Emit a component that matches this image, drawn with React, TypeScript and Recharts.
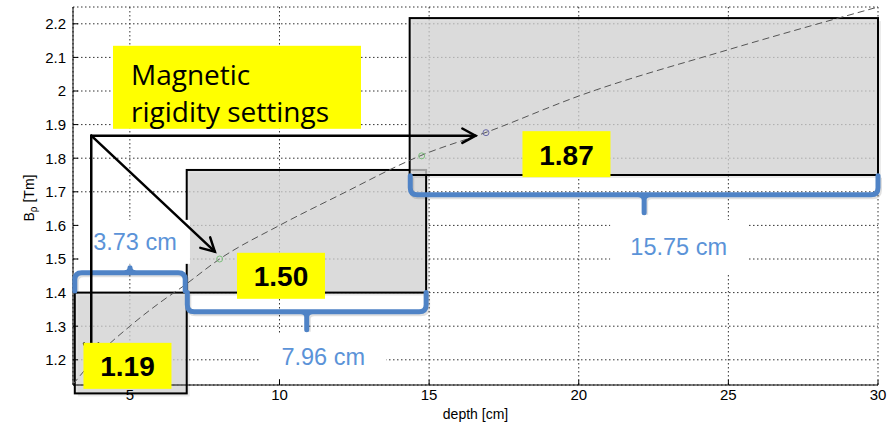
import {
  CartesianGrid,
  ComposedChart,
  Label,
  Line,
  ReferenceArea,
  ReferenceDot,
  ReferenceLine,
  Scatter,
  XAxis,
  YAxis,
} from "recharts";

// rigidity curve Bρ vs depth
const depth = [3.1, 4, 5, 6, 6.8, 8, 10, 12, 14.7, 17, 20, 25, 30];
const rigidity = [1.127, 1.22, 1.3, 1.37, 1.42, 1.5, 1.6, 1.69, 1.807, 1.88, 1.985, 2.123, 2.25];

const xTicks = [5, 10, 15, 20, 25, 30];
const yTicks = [1.2, 1.3, 1.4, 1.5, 1.6, 1.7, 1.8, 1.9, 2.0, 2.1, 2.2];

// marked settings on the curve
const markDepth = [8.0, 14.75, 16.9];
const markRigidity = [1.5, 1.807, 1.876];
const markColor = ["#7cbf7c", "#7cbf7c", "#6a6aa8"];

// shaded depth windows
const windowLabel = ["1.19", "1.50", "1.87"];
const windowX1 = [3.16, 6.9, 14.35];
const windowX2 = [6.9, 14.9, 30];
const windowY1 = [1.1, 1.4, 1.75];
const windowY2 = [1.4, 1.765, 2.217];
const windowLabelX = [4.92, 10.05, 19.59];
const windowLabelY = [1.182, 1.45, 1.812];

// braces with widths
const braceText = ["3.73 cm", "7.96 cm", "15.75 cm"];
const braceX1 = [3.16, 6.92, 14.37];
const braceX2 = [6.85, 14.9, 30];
const braceEnd = [1.405, 1.4, 1.748];
const braceBar = [1.459, 1.343, 1.691];
const braceTextX = [5.17, 11.46, 23.34];
const braceTextY = [1.551, 1.209, 1.536];

// arrows from the caption
const arrowFromX = 3.71;
const arrowFromY = 1.867;
const arrowToX = [16.55, 7.84, 3.71];
const arrowToY = [1.867, 1.522, 1.209];

const captionX = 8.58;
const captionY = 2.011;

const curve = depth.map((d, i) => ({ depth: d, b: rigidity[i] }));
const marks = markDepth.map((d, i) => ({ depth: d, b: markRigidity[i], color: markColor[i] }));

const BLUE = "#4f83c6";
const TEXT_BLUE = "#5b93d8";
const YELLOW = "#ffff00";
const FONT = "'Liberation Sans', Arial, sans-serif";

function fmt(v: number) {
  return String(Number(v.toFixed(1)));
}

function windowShape(p: any) {
  const { x, y, width, height } = p;
  return (
    <g>
      <rect x={x + 3} y={y + 3} width={width} height={height} fill="#000" fillOpacity={0.08} />
      <rect x={x} y={y} width={width} height={height} fill="#d6d6d6" fillOpacity={0.75} stroke="#000" strokeWidth={2} />
    </g>
  );
}

function braceShape(p: any, up: boolean) {
  const { x, y, width, height } = p;
  const x2 = x + width;
  const xc = x + width / 2;
  const s = up ? -1 : 1;
  const yBar = up ? y : y + height;
  const yEnd = up ? y + height : y;
  const r = 7;
  const tip = up ? 5 : 18;
  const d =
    `M${x},${yEnd} L${x},${yBar - s * r} Q${x},${yBar} ${x + r},${yBar} ` +
    `L${x2 - r},${yBar} Q${x2},${yBar} ${x2},${yBar - s * r} L${x2},${yEnd} ` +
    `M${xc - 6},${yBar} Q${xc},${yBar} ${xc},${yBar + s * 5} L${xc},${yBar + s * tip} ` +
    `M${xc + 6},${yBar} Q${xc},${yBar} ${xc},${yBar + s * 5}`;
  return (
    <g>
      <path d={d} fill="none" stroke="#000" strokeOpacity={0.12} strokeWidth={5} transform="translate(1.5,2)" />
      <path d={d} fill="none" stroke={BLUE} strokeWidth={5} strokeLinecap="round" strokeLinejoin="round" />
    </g>
  );
}

function arrowShape(p: any) {
  const { x1, y1, x2, y2 } = p;
  const a = Math.atan2(y2 - y1, x2 - x1);
  const len = 15;
  const spread = 0.5;
  const hx1 = x2 - len * Math.cos(a - spread);
  const hy1 = y2 - len * Math.sin(a - spread);
  const hx2 = x2 - len * Math.cos(a + spread);
  const hy2 = y2 - len * Math.sin(a + spread);
  return (
    <g stroke="#000" strokeWidth={2.5} fill="none" strokeLinecap="round">
      <line x1={x1} y1={y1} x2={x2} y2={y2} />
      <polyline points={`${hx1},${hy1} ${x2},${y2} ${hx2},${hy2}`} />
    </g>
  );
}

function widthLabel(text: string, w: number, h: number) {
  return (p: any) => (
    <g>
      <rect x={p.cx - w / 2} y={p.cy - h / 2} width={w} height={h} fill="#fff" />
      <text
        x={p.cx}
        y={p.cy}
        textAnchor="middle"
        dominantBaseline="central"
        fontFamily={FONT}
        fontSize={23.5}
        fill={TEXT_BLUE}
      >
        {text}
      </text>
    </g>
  );
}

function valueLabel(text: string) {
  return (p: any) => (
    <g>
      <rect x={p.cx - 44} y={p.cy - 23} width={88} height={46} fill={YELLOW} />
      <text
        x={p.cx}
        y={p.cy + 1}
        textAnchor="middle"
        dominantBaseline="central"
        fontFamily={FONT}
        fontWeight="bold"
        fontSize={28}
        fill="#000"
      >
        {text}
      </text>
    </g>
  );
}

function captionShape(p: any) {
  const left = p.cx - 124;
  const top = p.cy - 41.5;
  return (
    <g>
      <rect x={left} y={top} width={248} height={83} fill={YELLOW} />
      <text x={left + 18} y={top + 39} fontFamily="'Open Sans', sans-serif" fontSize={28} fill="#000">
        Magnetic
      </text>
      <text x={left + 18} y={top + 76} fontFamily="'Open Sans', sans-serif" fontSize={28} fill="#000">
        rigidity settings
      </text>
    </g>
  );
}

function markShape(p: any) {
  return <circle cx={p.cx} cy={p.cy} r={3} fill="none" stroke={p.payload.color} strokeWidth={1} />;
}

const tickStyle = { fill: "#000", fontSize: 15, fontFamily: FONT };

export default function App() {
  return (
    <div style={{ position: "absolute", left: 0, top: 0, background: "#fff" }}>
      <ComposedChart width={889} height={425} data={curve} margin={{ top: 7, right: 11, left: 13, bottom: 0 }}>
        <CartesianGrid stroke="#333" strokeDasharray="1.5 2.5" />
        <XAxis
          dataKey="depth"
          type="number"
          domain={[3.1, 30]}
          ticks={xTicks}
          allowDataOverflow
          height={40}
          tickSize={-5}
          tickMargin={9}
          axisLine={{ stroke: "#000" }}
          tickLine={{ stroke: "#000" }}
          tick={tickStyle}
        >
          <Label value="depth [cm]" position="insideBottom" offset={6} fontSize={14} fill="#000" fontFamily={FONT} />
        </XAxis>
        <XAxis
          xAxisId="top"
          orientation="top"
          dataKey="depth"
          type="number"
          domain={[3.1, 30]}
          ticks={xTicks}
          allowDataOverflow
          height={0}
          tickSize={-5}
          tick={false}
          axisLine={{ stroke: "#000" }}
          tickLine={{ stroke: "#000" }}
        />
        <YAxis
          type="number"
          domain={[1.125, 2.25]}
          ticks={yTicks}
          allowDataOverflow
          width={60}
          tickSize={-5}
          tickMargin={12}
          tickFormatter={fmt}
          axisLine={{ stroke: "#000" }}
          tickLine={{ stroke: "#000" }}
          tick={tickStyle}
        >
          <Label
            content={() => (
              <text transform="translate(34,198) rotate(-90)" textAnchor="middle" fontFamily={FONT} fontSize={14} fill="#000">
                B<tspan fontSize={10} dy={3}>ρ</tspan>
                <tspan dy={-3}> [Tm]</tspan>
              </text>
            )}
          />
        </YAxis>
        <YAxis
          yAxisId="right"
          orientation="right"
          type="number"
          domain={[1.125, 2.25]}
          ticks={yTicks}
          allowDataOverflow
          width={0}
          tickSize={-5}
          tick={false}
          axisLine={{ stroke: "#000" }}
          tickLine={{ stroke: "#000" }}
        />

        {windowLabel.map((l, i) => (
          <ReferenceArea
            key={"w" + l}
            x1={windowX1[i]}
            x2={windowX2[i]}
            y1={windowY1[i]}
            y2={windowY2[i]}
            ifOverflow="visible"
            zIndex={50}
            shape={windowShape}
          />
        ))}

        <Line
          dataKey="b"
          type="monotone"
          stroke="#555"
          strokeWidth={1}
          strokeDasharray="7 4"
          dot={false}
          activeDot={false}
          isAnimationActive={false}
        />
        <Scatter data={marks} dataKey="b" shape={markShape} isAnimationActive={false} />

        {braceText.map((t, i) => (
          <ReferenceArea
            key={"b" + t}
            x1={braceX1[i]}
            x2={braceX2[i]}
            y1={Math.min(braceEnd[i], braceBar[i])}
            y2={Math.max(braceEnd[i], braceBar[i])}
            ifOverflow="visible"
            zIndex={700}
            shape={(p: any) => braceShape(p, braceBar[i] > braceEnd[i])}
          />
        ))}

        {braceText.map((t, i) => (
          <ReferenceDot
            key={"t" + t}
            x={braceTextX[i]}
            y={braceTextY[i]}
            r={0}
            ifOverflow="visible"
            zIndex={750}
            shape={widthLabel(t, i === 0 ? 110 : i === 1 ? 126 : 137, i === 2 ? 54 : 44)}
          />
        ))}

        {arrowToX.map((ax, i) => (
          <ReferenceLine
            key={"a" + i}
            segment={[
              { x: arrowFromX, y: arrowFromY },
              { x: ax, y: arrowToY[i] },
            ]}
            ifOverflow="visible"
            zIndex={800}
            shape={arrowShape}
          />
        ))}

        {windowLabel.map((l, i) => (
          <ReferenceDot
            key={"l" + l}
            x={windowLabelX[i]}
            y={windowLabelY[i]}
            r={0}
            ifOverflow="visible"
            zIndex={900}
            shape={valueLabel(l)}
          />
        ))}

        <ReferenceDot x={captionX} y={captionY} r={0} ifOverflow="visible" zIndex={900} shape={captionShape} />
      </ComposedChart>
    </div>
  );
}
